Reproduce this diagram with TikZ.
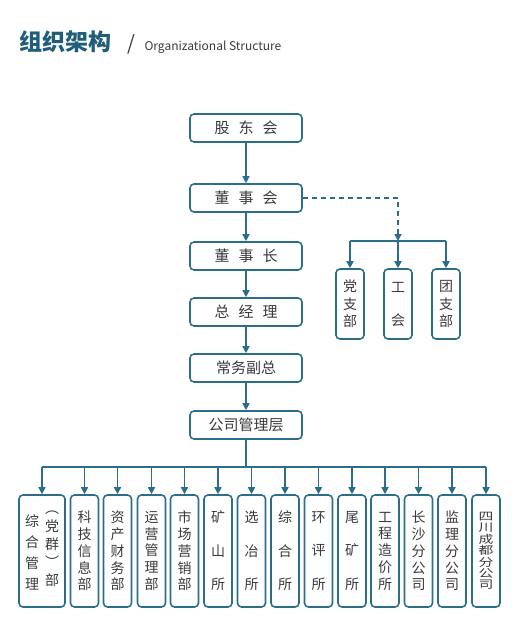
\documentclass[tikz,border=0pt]{standalone}
\usepackage{fontspec}
\newfontfamily\cjk{Noto Sans CJK SC}
\newfontfamily\cjkwide[FakeStretch=1.35]{Noto Sans CJK SC}
\usepackage{xcolor}
\definecolor{oTeal}{HTML}{2C6D89}
\definecolor{oTitle}{HTML}{1F5D79}
\definecolor{oText}{HTML}{3A3A3A}
\usetikzlibrary{arrows.meta, positioning}

\begin{document}
\begin{tikzpicture}[
  x=1pt, y=-1pt,
  every node/.style={font=\cjk, text=oText},
  unit/.style={rectangle, rounded corners=4pt, draw=oTeal, line width=1.6pt,
               fill=white, minimum width=112pt, minimum height=28pt, inner sep=0pt,
               font=\cjk\fontsize{15}{18}\selectfont},
  dept/.style={rectangle, rounded corners=4pt, draw=oTeal, line width=1.6pt,
               minimum width=28pt, minimum height=112pt, inner sep=0pt, align=center,
               font=\cjk\fontsize{14}{16.75}\selectfont},
  deptwide/.style={dept, font=\cjk\fontsize{14}{33.5}\selectfont},
  deptlong/.style={dept, font=\cjkwide\fontsize{11}{11.4}\selectfont},
  party/.style={dept, minimum height=70pt, font=\cjk\fontsize{14}{17.5}\selectfont},
  col/.style={inner sep=0pt, align=center},
  link/.style={draw=oTeal, line width=1.6pt},
  arr/.style={link, -{Triangle[length=7pt, width=7pt]}}
]
\useasboundingbox (0,0) rectangle (517,626);

% title
\node[anchor=base west, font=\cjk\bfseries\fontsize{23}{26}\selectfont, text=oTitle] (ttl) at (16,51) {组织架构};
\node[anchor=base west, font=\cjk\fontsize{20}{22}\selectfont, text=oText] (slash) at (124,51) {/};
\node[anchor=base west, font=\cjk\fontsize{12}{14}\selectfont, text=oText] (eng) at (141,51) {Organizational Structure};

% main line
\node[unit] (gdh) at (246,128) {股\hspace{0.6em}东\hspace{0.6em}会};
\node[unit] (dsh) at (246,198) {董\hspace{0.6em}事\hspace{0.6em}会};
\node[unit] (dsz) at (246,256) {董\hspace{0.6em}事\hspace{0.6em}长};
\node[unit] (zjl) at (246,312) {总\hspace{0.6em}经\hspace{0.6em}理};
\node[unit] (cwfz) at (246,368) {常务副总};
\node[unit] (glc) at (246,425) {公司管理层};

\draw[arr] (gdh) -- (dsh);
\draw[arr] (dsh) -- (dsz);
\draw[arr] (dsz) -- (zjl);
\draw[arr] (zjl) -- (cwfz);
\draw[arr] (cwfz) -- (glc);

% party / union / league
\node[party] (dzb) at (350,304) {党\\支\\部};
\node[party, font=\cjk\fontsize{14}{33}\selectfont] (gh) at (398,304) {工\\会};
\node[party] (tzb) at (446,304) {团\\支\\部};

\coordinate (pjct) at (398,241);
\draw[arr, dashed, dash pattern=on 5pt off 4pt] (dsh.east) -| (pjct);
\draw[link] (dzb |- pjct) -- (tzb |- pjct);
\draw[arr] (dzb |- pjct) -- (dzb.north);
\draw[arr] (pjct) -- (gh.north);
\draw[arr] (tzb |- pjct) -- (tzb.north);

% departments
\node[dept, minimum width=46pt] (zhb) at (42,551) {};
\node[col, font=\cjk\fontsize{14}{21}\selectfont] (zhl) at (32,552) {综\\合\\管\\理};
\node[col, font=\cjk\fontsize{14}{18}\selectfont] (zhr) at (52,549) {︵\\党\\群\\︶\\部};
\node[dept] (kjb) at (84.5,551) {科\\技\\信\\息\\部};
\node[dept] (zcb) at (117.5,551) {资\\产\\财\\务\\部};
\node[dept] (yyb) at (151.5,551) {运\\营\\管\\理\\部};
\node[dept] (scb) at (184.5,551) {市\\场\\营\\销\\部};
\node[deptwide] (ksu) at (218,551) {矿\\山\\所};
\node[deptwide] (xys) at (251.5,551) {选\\冶\\所};
\node[deptwide] (zhs) at (285,551) {综\\合\\所};
\node[deptwide] (hps) at (318.5,551) {环\\评\\所};
\node[deptwide] (wks) at (352,551) {尾\\矿\\所};
\node[dept] (gcs) at (385,551) {工\\程\\造\\价\\所};
\node[dept] (csf) at (418.5,551) {长\\沙\\分\\公\\司};
\node[dept] (jlf) at (452,551) {监\\理\\分\\公\\司};
\node[deptlong] (scf) at (486,551) {四\\川\\成\\都\\分\\公\\司};

\coordinate (bus) at (246,467);
\draw[link] (glc) -- (bus);
\draw[link] (zhb |- bus) -- (scf |- bus);
\foreach \d in {zhb,kjb,zcb,yyb,scb,ksu,xys,zhs,hps,wks,gcs,csf,jlf,scf}
  \draw[arr] (\d |- bus) -- (\d.north);
\end{tikzpicture}
\end{document}
